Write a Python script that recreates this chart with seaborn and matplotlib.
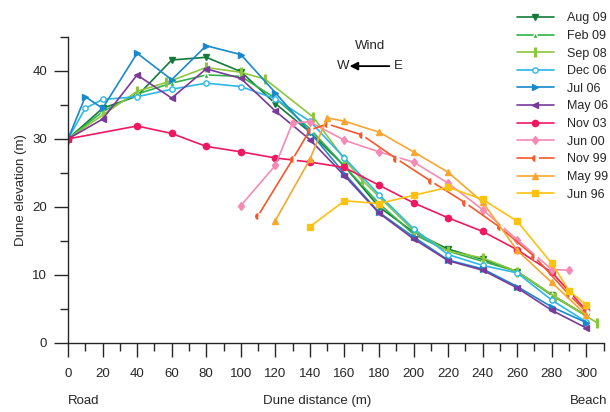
import matplotlib
matplotlib.use("Agg")
import matplotlib.pyplot as plt
import seaborn as sns
import pandas as pd
from matplotlib.ticker import MultipleLocator

# survey dates (legend order)
dates = ["Aug 09", "Feb 09", "Sep 08", "Dec 06", "Jul 06", "May 06",
         "Nov 03", "Jun 00", "Nov 99", "May 99", "Jun 96"]

# distance (m) / elevation (m)
aug09_x = [0, 20, 40, 60, 80, 100, 120, 140, 160, 180, 200, 220, 240, 260, 280, 300]
aug09_y = [30, 34.5, 36.3, 41.6, 42.0, 39.9, 35.2, 31.0, 26.0, 20.0, 16.3, 13.8, 12.3, 10.5, 7.1, 4.0]

feb09_x = [0, 20, 40, 60, 80, 100, 120, 140, 160, 180, 200, 220, 240, 260, 280, 300]
feb09_y = [30, 34.0, 36.6, 38.2, 39.4, 39.2, 36.0, 31.5, 26.0, 20.5, 16.0, 13.5, 12.0, 10.5, 7.0, 4.0]

sep08_x = [0, 20, 40, 57, 80, 100, 114, 142, 160, 170, 200, 220, 240, 260, 282, 306]
sep08_y = [30, 33.5, 37.0, 38.3, 40.5, 39.8, 38.8, 33.2, 27.0, 24.0, 16.5, 13.5, 12.5, 10.5, 6.8, 3.0]

dec06_x = [0, 10, 20, 40, 60, 80, 100, 120, 140, 160, 180, 200, 220, 240, 260, 280, 300]
dec06_y = [30, 34.5, 35.8, 36.2, 37.3, 38.2, 37.7, 35.9, 32.6, 27.2, 21.8, 16.8, 13.0, 11.4, 10.3, 6.3, 3.1]

jul06_x = [0, 10, 20, 40, 60, 80, 100, 120, 140, 160, 180, 200, 220, 240, 260, 280, 300]
jul06_y = [30, 36.2, 34.5, 42.6, 38.7, 43.7, 42.4, 36.8, 31.0, 24.9, 19.2, 15.6, 12.2, 10.9, 8.3, 5.3, 3.0]

may06_x = [0, 20, 40, 60, 80, 100, 120, 140, 160, 180, 200, 220, 240, 260, 280, 300]
may06_y = [30, 32.9, 39.4, 36.0, 40.3, 38.9, 34.1, 29.9, 24.6, 19.1, 15.3, 12.1, 10.7, 8.1, 4.8, 2.2]

nov03_x = [0, 40, 60, 80, 100, 120, 140, 160, 180, 200, 220, 240, 260, 280, 300]
nov03_y = [30, 31.9, 30.8, 28.9, 28.1, 27.2, 26.6, 25.8, 23.2, 20.6, 18.4, 16.4, 13.7, 10.4, 4.8]

jun00_x = [100, 120, 130, 140, 160, 180, 200, 220, 240, 260, 280, 290]
jun00_y = [20.2, 26.1, 32.4, 32.5, 29.8, 28.1, 26.6, 23.5, 19.6, 15.2, 10.8, 10.7]

nov99_x = [110, 130, 140, 150, 170, 190, 210, 230, 250, 270, 290, 300]
nov99_y = [18.7, 27.0, 31.3, 32.2, 30.6, 27.1, 23.8, 20.6, 17.0, 12.7, 7.1, 4.6]

may99_x = [120, 140, 150, 160, 180, 200, 220, 240, 260, 280, 300]
may99_y = [18.0, 27.0, 33.1, 32.6, 31.0, 28.1, 25.1, 20.7, 13.6, 8.9, 4.1]

jun96_x = [140, 160, 180, 200, 220, 240, 260, 280, 290, 300]
jun96_y = [17.1, 20.9, 20.5, 21.7, 22.9, 21.1, 17.9, 11.7, 7.7, 5.6]

series_x = [aug09_x, feb09_x, sep08_x, dec06_x, jul06_x, may06_x,
            nov03_x, jun00_x, nov99_x, may99_x, jun96_x]
series_y = [aug09_y, feb09_y, sep08_y, dec06_y, jul06_y, may06_y,
            nov03_y, jun00_y, nov99_y, may99_y, jun96_y]

colors = ["#137a3a", "#2fb34a", "#8cc63e", "#2bb8e6", "#1889cc", "#7a3a9a",
          "#ef175e", "#f58bb5", "#f6582a", "#f9a630", "#fdc20f"]
markers = ["v", "^", "|", "o", ">", "<", "o", "d", "o", "^", "s"]

sns.set_style("ticks")
plt.rcParams["font.family"] = ["Liberation Sans", "DejaVu Sans"]

fig = plt.figure(figsize=(6.1, 4.12), dpi=100)
ax = fig.add_axes([0.1115, 0.1675, 0.878, 0.743])

for i, d in enumerate(dates):
    df = pd.DataFrame({"dist": series_x[i], "elev": series_y[i]})
    kw = dict(markersize=4.5, markeredgewidth=1)
    if d == "Dec 06":
        kw.update(markerfacecolor="white", markeredgecolor=colors[i], markersize=3.8)
    elif d == "Sep 08":
        kw.update(markeredgewidth=2.2, markersize=6.5, markeredgecolor=colors[i])
    elif d == "Nov 99":
        kw.update(fillstyle="left", markerfacecoloralt="white", markeredgewidth=0,
                  markersize=5)
    elif d == "Feb 09":
        kw.update(markersize=3.8)
    elif d == "Jun 00":
        kw.update(markersize=4.5, markeredgecolor=colors[i])
    else:
        kw.update(markeredgecolor=colors[i])
    sns.lineplot(data=df, x="dist", y="elev", ax=ax, color=colors[i],
                 marker=markers[i], linewidth=1.2, label=d, sort=False, **kw)

ax.set_xlim(0, 310)
ax.set_ylim(0, 45)
ax.xaxis.set_major_locator(MultipleLocator(20))
ax.xaxis.set_minor_locator(MultipleLocator(10))
ax.yaxis.set_major_locator(MultipleLocator(10))
ax.yaxis.set_minor_locator(MultipleLocator(5))
ax.tick_params(which="major", length=10, width=1, labelsize=9.5)
ax.tick_params(axis="x", which="major", pad=8)
ax.tick_params(axis="y", which="major", pad=5)
ax.tick_params(which="minor", length=6, width=1)
sns.despine(ax=ax)
for s in ["left", "bottom"]:
    ax.spines[s].set_linewidth(1)
ax.set_xlabel("")
ax.set_ylabel("Dune elevation (m)", fontsize=9.5, labelpad=4)

fig.text(0.112, 0.02, "Road", fontsize=9.5, ha="left")
fig.text(0.52, 0.02, "Dune distance (m)", fontsize=9.5, ha="center")
fig.text(0.995, 0.02, "Beach", fontsize=9.5, ha="right")

# wind direction note
ax.text(175, 43.7, "Wind", fontsize=9.5, ha="center", va="center")
ax.text(159, 40.7, "W", fontsize=9.5, ha="center", va="center")
ax.text(191, 40.7, "E", fontsize=9.5, ha="center", va="center")
ax.annotate("", xy=(163, 40.7), xytext=(186, 40.7),
            arrowprops=dict(arrowstyle="-|>", color="black", lw=1.3,
                            mutation_scale=12, shrinkA=0, shrinkB=0))

ax.legend(loc="upper left", bbox_to_anchor=(0.847, 0.97), bbox_transform=fig.transFigure,
          frameon=False, fontsize=9, handlelength=3.0, handletextpad=1.0,
          labelspacing=0.45, borderpad=0, borderaxespad=0)

fig.savefig("out.png", dpi=100)
